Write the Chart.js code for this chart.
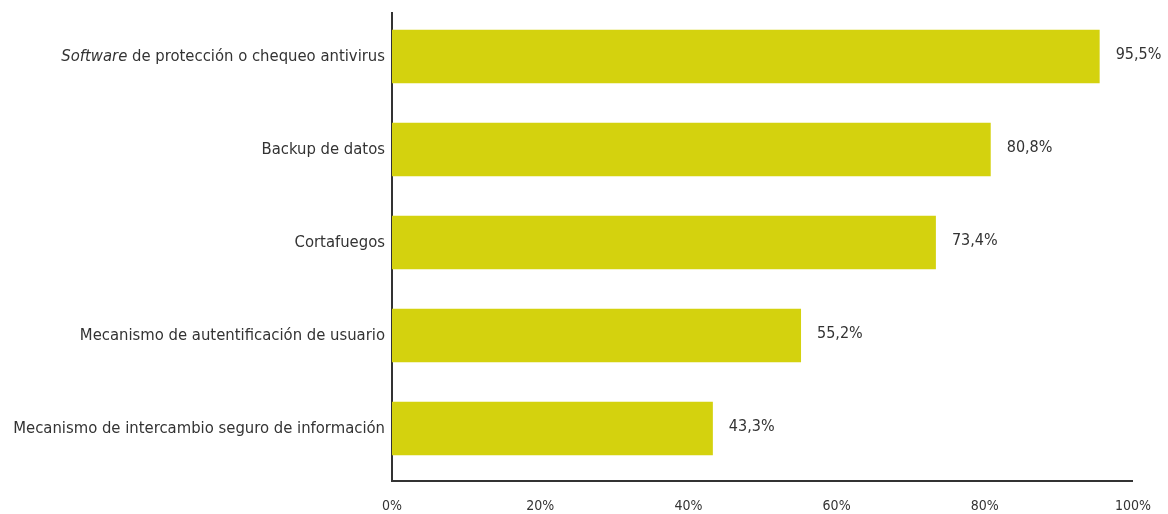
<!DOCTYPE html>
<html>
<head>
<meta charset="utf-8">
<script src="https://cdn.jsdelivr.net/npm/chart.js@4/dist/chart.umd.min.js"></script>
<style>
  html, body { margin: 0; padding: 0; background: #fff; }
  #wrap { width: 1168px; height: 514px; }
</style>
</head>
<body>
<div id="wrap"><canvas id="chart"></canvas></div>
<script>
const categories = [
    'Software de protección o chequeo antivirus',
    'Backup de datos',
    'Cortafuegos',
    'Mecanismo de autentificación de usuario',
    'Mecanismo de intercambio seguro de información'
]
const values = [95.5, 80.8, 73.4, 55.2, 43.3]
const xTicks = [0, 20, 40, 60, 80, 100]

const FONT = '"Liberation Sans Narrow", "DejaVu Sans Condensed", "Liberation Sans", sans-serif'
const TEXT = '#333333'
const BAR = '#d4d20e'
const LABEL_SIZE = 16.5

function pct(v) {
    return v.toFixed(1).replace('.', ',') + '%'
}

// value labels at the end of each bar + italic first word of the first category
const labelPlugin = {
    id: 'labels',
    afterDatasetsDraw(chart) {
        const ctx = chart.ctx
        const meta = chart.getDatasetMeta(0)
        ctx.save()
        ctx.fillStyle = TEXT
        ctx.font = '16px ' + FONT
        ctx.textBaseline = 'middle'
        ctx.textAlign = 'left'
        meta.data.forEach((bar, i) => {
            ctx.fillText(pct(values[i]), bar.x + 16, bar.y - 2)
        })

        // first category label with "Software" in italics
        const yScale = chart.scales.y
        const y = yScale.getPixelForValue(0)
        const right = yScale.right - 7
        const rest = ' de protección o chequeo antivirus'
        ctx.textAlign = 'right'
        ctx.font = LABEL_SIZE + 'px ' + FONT
        const wRest = ctx.measureText(rest).width
        ctx.fillText(rest, right, y)
        ctx.font = 'italic ' + LABEL_SIZE + 'px ' + FONT
        ctx.fillText('Software', right - wRest, y)
        ctx.restore()
    }
}

const data = {
    datasets: [{
        data: values.map((v, i) => ({ x: v, y: i })),
        backgroundColor: BAR,
        borderWidth: 0,
        barPercentage: 0.575,
        categoryPercentage: 1
    }]
}

const config = {
    type: 'bar',
    data: data,
    options: {
        indexAxis: 'y',
        responsive: true,
        maintainAspectRatio: false,
        animation: false,
        layout: { padding: { top: 13, right: 35, left: 0, bottom: 0 } },
        plugins: { legend: { display: false }, tooltip: { enabled: false } },
        scales: {
            x: {
                type: 'linear',
                min: 0,
                max: 100,
                afterBuildTicks: scale => { scale.ticks = xTicks.map(v => ({ value: v })) },
                grid: { display: false, drawTicks: false },
                border: { display: true, color: '#333', width: 2 },
                ticks: {
                    color: TEXT,
                    font: { family: FONT, size: 14 },
                    padding: 17,
                    maxRotation: 0,
                    callback: v => v + '%'
                },
                afterFit: scale => { scale.height = 33 }
            },
            y: {
                type: 'linear',
                reverse: true,
                offset: false,
                min: -0.468,
                max: 4.564,
                afterBuildTicks: scale => { scale.ticks = categories.map((c, i) => ({ value: i })) },
                grid: { display: false, drawTicks: false },
                border: { display: true, color: '#333', width: 2 },
                ticks: {
                    color: TEXT,
                    font: { family: FONT, size: LABEL_SIZE },
                    padding: 7,
                    autoSkip: false,
                    callback: v => (v === 0 ? '' : categories[v])
                },
                afterFit: scale => {
                    scale.width = 392
                    scale.paddingTop = 0
                    scale.paddingBottom = 0
                }
            }
        }
    },
    plugins: [labelPlugin]
}

let ctx = document.getElementById('chart').getContext('2d')
new Chart(ctx, config)
</script>
</body>
</html>
